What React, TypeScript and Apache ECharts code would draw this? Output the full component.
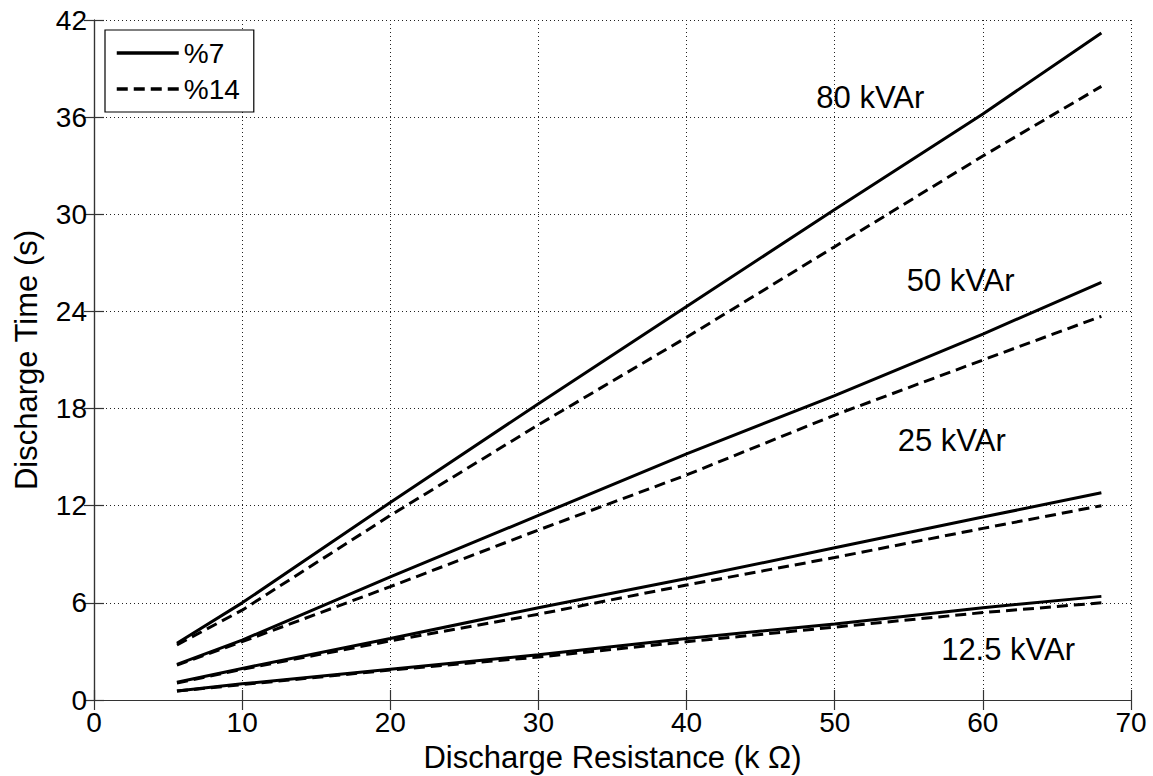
import React, { useEffect, useRef } from "react";
import * as echarts from "echarts";

const resistance = [5.6, 10, 20, 30, 40, 50, 60, 68];

const t80_7 = [3.5, 6.0, 12.2, 18.3, 24.3, 30.3, 36.2, 41.2];
const t80_14 = [3.4, 5.55, 11.4, 17.0, 22.4, 28.0, 33.6, 37.9];
const t50_7 = [2.2, 3.7, 7.6, 11.4, 15.2, 18.8, 22.6, 25.8];
const t50_14 = [2.15, 3.6, 7.0, 10.5, 13.9, 17.6, 21.0, 23.7];
const t25_7 = [1.1, 1.95, 3.8, 5.7, 7.5, 9.4, 11.3, 12.8];
const t25_14 = [1.05, 1.9, 3.65, 5.3, 7.1, 8.8, 10.6, 12.0];
const t125_7 = [0.55, 1.0, 1.9, 2.8, 3.8, 4.7, 5.7, 6.4];
const t125_14 = [0.55, 0.95, 1.85, 2.65, 3.6, 4.5, 5.4, 6.0];

const annotations: [string, number, number][] = [
  ["80 kVAr", 52.4, 37.2],
  ["50 kVAr", 58.5, 25.9],
  ["25 kVAr", 57.9, 16.0],
  ["12.5 kVAr", 61.7, 3.1],
];

const FONT = "'Liberation Sans', Arial, Helvetica, sans-serif";

function pairs(ys: number[]) {
  return resistance.map((x, i) => [x, ys[i]]);
}

export default function App() {
  const ref = useRef<HTMLDivElement>(null);
  useEffect(() => {
    if (!ref.current) return;
    const chart = echarts.init(ref.current, undefined, { renderer: "svg" });
    const solid = (ys: number[]) => ({
      type: "line",
      name: "%7",
      data: pairs(ys),
      symbol: "none",
      lineStyle: { color: "#000", width: 3, type: "solid" },
      itemStyle: { color: "#000" },
      z: 3,
    });
    const dashed = (ys: number[]) => ({
      type: "line",
      name: "%14",
      data: pairs(ys),
      symbol: "none",
      lineStyle: { color: "#000", width: 3, type: [11, 6] },
      itemStyle: { color: "#000" },
      z: 3,
    });
    const axisLine = { show: true, lineStyle: { color: "#333", width: 1.2 } };
    const tick = { show: true, inside: true, length: 10, lineStyle: { color: "#333", width: 1.2 } };
    const grid = { show: true, lineStyle: { color: "#222", width: 1, type: [1, 3] } };
    chart.setOption({
      animation: false,
      backgroundColor: "#fff",
      textStyle: { fontFamily: FONT },
      grid: {
        left: 94,
        right: 22,
        top: 20,
        bottom: 76,
        containLabel: false,
        outerBoundsMode: "none",
      },
      legend: {
        data: ["%7", "%14"],
        orient: "vertical",
        left: 105,
        top: 30,
        backgroundColor: "#fff",
        borderColor: "#000",
        borderWidth: 1.2,
        borderRadius: 0,
        padding: [9, 14, 9, 10],
        itemGap: 8,
        itemWidth: 62,
        itemHeight: 14,
        itemStyle: { opacity: 0, borderWidth: 0 },
        lineStyle: { width: 3.5, color: "#000" },
        textStyle: { fontSize: 28, color: "#000", fontFamily: FONT },
      },
      xAxis: [
        {
          type: "value",
          min: 0,
          max: 70,
          interval: 10,
          position: "bottom",
          name: "Discharge Resistance (k \u03A9)",
          nameLocation: "middle",
          nameGap: 42,
          nameTextStyle: { fontSize: 31, color: "#000", fontFamily: FONT },
          axisLine,
          axisTick: tick,
          axisLabel: { fontSize: 28, color: "#000", margin: 8, fontFamily: FONT },
          splitLine: grid,
        },
        {
          type: "value",
          min: 0,
          max: 70,
          interval: 10,
          position: "top",
          axisLine,
          axisTick: tick,
          axisLabel: { show: false },
          splitLine: { show: false },
        },
      ],
      yAxis: [
        {
          type: "value",
          min: 0,
          max: 42,
          interval: 6,
          position: "left",
          name: "Discharge Time (s)",
          nameLocation: "middle",
          nameGap: 52,
          nameTextStyle: { fontSize: 31, color: "#000", fontFamily: FONT },
          axisLine,
          axisTick: tick,
          axisLabel: { fontSize: 28, color: "#000", margin: 7, fontFamily: FONT },
          splitLine: grid,
        },
        {
          type: "value",
          min: 0,
          max: 42,
          interval: 6,
          position: "right",
          axisLine,
          axisTick: tick,
          axisLabel: { show: false },
          splitLine: { show: false },
        },
      ],
      series: [
        solid(t80_7),
        dashed(t80_14),
        solid(t50_7),
        dashed(t50_14),
        solid(t25_7),
        dashed(t25_14),
        solid(t125_7),
        dashed(t125_14),
        {
          type: "scatter",
          name: "labels",
          symbolSize: 0,
          silent: true,
          itemStyle: { color: "#000", opacity: 1 },
          data: annotations.map(([n, x, y]) => ({ name: n, value: [x, y] })),
          label: {
            show: true,
            position: "inside",
            formatter: (p: any) => p.name,
            fontSize: 31,
            color: "#000",
            opacity: 1,
            textBorderWidth: 0,
            fontFamily: FONT,
          },
          z: 5,
        },
      ],
    });
    return () => chart.dispose();
  }, []);
  return (
    <div
      ref={ref}
      style={{ position: "absolute", left: 0, top: 0, width: 1153, height: 776 }}
    />
  );
}
